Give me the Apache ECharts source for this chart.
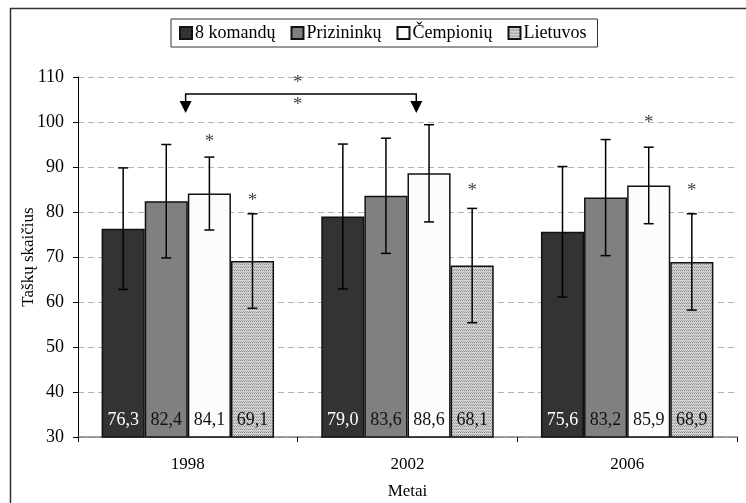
<!DOCTYPE html>
<html><head><meta charset="utf-8">
<script src="https://cdn.jsdelivr.net/npm/echarts@6/dist/echarts.min.js"></script>
<style>html,body{margin:0;padding:0;background:#fff}#c{width:746px;height:503px}</style>
</head><body><div id="c"></div>
<script>
const categories = ['1998', '2002', '2006'];
const seriesNames = ['8 komandų', 'Prizininkų', 'Čempionių', 'Lietuvos'];
const komandu = [76.3, 79.0, 75.6];
const prizininku = [82.4, 83.6, 83.2];
const cempioniu = [84.1, 88.6, 85.9];
const lietuvos = [69.1, 68.1, 68.9];
const errKomandu = [13.5, 16.1, 14.5];
const errPrizininku = [12.6, 12.8, 12.9];
const errCempioniu = [8.1, 10.8, 8.5];
const errLietuvos = [10.5, 12.7, 10.7];
// [category index, series index, value]
const starMarks = [[0, 2, 96.8], [0, 3, 83.7], [1, 3, 85.9], [2, 2, 101.0], [2, 3, 85.9]];
// bracket: [from category, offset in bands, to category, offset in bands, line value, arrow tip value]
const bracket = [0, -0.01, 1, 0.04, 106.2, 102.0];
// stars over the bracket: [category position, value]
const bracketStars = [[0.5, 110.0], [0.5, 105.0]];
const yTicks = {min: 30, max: 110, interval: 10};

const GAP = 0.215;
const FONT = '"Liberation Serif", "Times New Roman", serif';

const pc = document.createElement('canvas');
pc.width = 4; pc.height = 3;
const g = pc.getContext('2d');
g.fillStyle = '#d2d2d2'; g.fillRect(0, 0, 4, 3);
g.fillStyle = '#8c8c8c'; g.fillRect(0, 0, 1, 1); g.fillRect(2, 0, 1, 1);
g.fillStyle = '#a8a8a8'; g.fillRect(1, 2, 1, 1); g.fillRect(3, 2, 1, 1);
const pattern = {image: pc, repeat: 'repeat'};

const values = [komandu, prizininku, cempioniu, lietuvos];
const errs = [errKomandu, errPrizininku, errCempioniu, errLietuvos];
const colors = ['#333333', '#808080', '#fcfcfc', pattern];
const labelColors = ['#ffffff', '#111', '#111', '#111'];

const errData = [];
values.forEach((arr, si) => arr.forEach((v, ci) => errData.push([ci, si, v - errs[si][ci], v + errs[si][ci]])));

function barX(api, ci, si, yv) {
  const c = api.coord([ci, yv]);
  const band = api.size([1, 0])[0];
  const w = band * (1 - GAP) / 4;
  return [c[0] - band * (1 - GAP) / 2 + (si + 0.5) * w, c[1]];
}

const barSeries = seriesNames.map((n, i) => ({
  name: n, type: 'bar', data: values[i], barGap: '0%', barCategoryGap: (GAP * 100) + '%',
  itemStyle: {color: colors[i], borderColor: '#111', borderWidth: 1.5},
  label: {show: true, position: 'insideBottom', distance: 8, color: labelColors[i], fontFamily: FONT, fontSize: 18,
    formatter: p => p.value.toFixed(1).replace('.', ',')},
  z: 2
}));

const option = {
  animation: false,
  backgroundColor: '#fff',
  grid: {left: 78, right: 9, top: 77, bottom: 66, outerBoundsMode: 'none'},
  legend: {
    data: seriesNames, left: 171, top: 19, icon: 'rect', itemWidth: 12, itemHeight: 12, itemGap: 15,
    borderColor: '#333', borderWidth: 1, padding: [5, 11, 5, 8], borderRadius: 0,
    textStyle: {fontFamily: FONT, fontSize: 18, color: '#000', padding: [0, 0, 0, -2]}
  },
  xAxis: {
    type: 'category', data: categories, name: 'Metai', nameLocation: 'middle', nameGap: 46, nameMoveOverlap: false,
    nameTextStyle: {fontFamily: FONT, fontSize: 17, color: '#000'},
    axisLine: {lineStyle: {color: '#808080', width: 1.5}},
    axisTick: {show: true, length: 5, lineStyle: {color: '#000'}},
    axisLabel: {fontFamily: FONT, fontSize: 17, color: '#000', margin: 19}
  },
  yAxis: {
    type: 'value', min: yTicks.min, max: yTicks.max, interval: yTicks.interval,
    name: 'Taškų skaičius', nameLocation: 'middle', nameGap: 41, nameMoveOverlap: false,
    nameTextStyle: {fontFamily: FONT, fontSize: 17, color: '#000'},
    axisLine: {show: true, lineStyle: {color: '#000', width: 1}},
    axisTick: {show: true, length: 5, lineStyle: {color: '#000'}},
    axisLabel: {fontFamily: FONT, fontSize: 18, color: '#000', margin: 14},
    splitLine: {lineStyle: {color: '#b4b4b4', type: [6, 4], width: 1}}
  },
  series: [
    ...barSeries,
    {
      type: 'custom', name: 'err', data: errData, encode: {x: 0, y: [2, 3]}, z: 5, silent: true,
      renderItem: (params, api) => {
        const ci = api.value(0), si = api.value(1);
        const lo = barX(api, ci, si, api.value(2));
        const hi = barX(api, ci, si, api.value(3));
        const style = {stroke: '#000', lineWidth: 1.5};
        return {type: 'group', children: [
          {type: 'line', shape: {x1: lo[0], y1: lo[1], x2: hi[0], y2: hi[1]}, style},
          {type: 'line', shape: {x1: lo[0] - 5, y1: lo[1], x2: lo[0] + 5, y2: lo[1]}, style},
          {type: 'line', shape: {x1: hi[0] - 5, y1: hi[1], x2: hi[0] + 5, y2: hi[1]}, style}
        ]};
      }
    },
    {
      type: 'custom', name: 'stars', data: starMarks, encode: {x: 0, y: 2}, z: 6, silent: true,
      renderItem: (params, api) => {
        const p = barX(api, api.value(0), api.value(1), api.value(2));
        return {type: 'text', style: {text: '*', x: p[0], y: p[1] + 6, align: 'center', verticalAlign: 'middle',
          fill: '#444', font: '19px ' + FONT}};
      }
    },
    {
      type: 'custom', name: 'bracket', data: [bracket], encode: {x: 0, y: 4}, z: 6, silent: true,
      renderItem: (params, api) => {
        const band = api.size([1, 0])[0];
        const a = api.coord([api.value(0), api.value(4)]);
        const b = api.coord([api.value(2), api.value(4)]);
        const tip = api.coord([api.value(0), api.value(5)])[1];
        const x1 = a[0] + api.value(1) * band, x2 = b[0] + api.value(3) * band, y = a[1];
        const ah = 12, aw = 6;
        const style = {stroke: '#000', lineWidth: 1.5, fill: 'none'};
        return {type: 'group', children: [
          {type: 'polyline', shape: {points: [[x1, tip - ah], [x1, y], [x2, y], [x2, tip - ah]]}, style},
          {type: 'polygon', shape: {points: [[x1 - aw, tip - ah], [x1 + aw, tip - ah], [x1, tip]]}, style: {fill: '#000'}},
          {type: 'polygon', shape: {points: [[x2 - aw, tip - ah], [x2 + aw, tip - ah], [x2, tip]]}, style: {fill: '#000'}}
        ]};
      }
    },
    {
      type: 'custom', name: 'bstars', data: bracketStars, encode: {x: 0, y: 1}, z: 6, silent: true,
      renderItem: (params, api) => {
        const band = api.size([1, 0])[0];
        const pos = api.value(0);
        const c = api.coord([Math.floor(pos), api.value(1)]);
        const x = c[0] + (pos - Math.floor(pos)) * band;
        return {type: 'text', style: {text: '*', x: x, y: c[1] + 6, align: 'center', verticalAlign: 'middle',
          fill: '#444', font: '19px ' + FONT}};
      }
    }
  ],
  graphic: [{type: 'polyline', silent: true, shape: {points: [[10.5, 503], [10.5, 8.5], [746, 8.5]]},
    style: {stroke: '#333', lineWidth: 1.5, fill: 'none'}}]
};
const chart = echarts.init(document.getElementById('c'), null, {renderer: 'canvas'});
chart.setOption(option);
</script></body></html>
